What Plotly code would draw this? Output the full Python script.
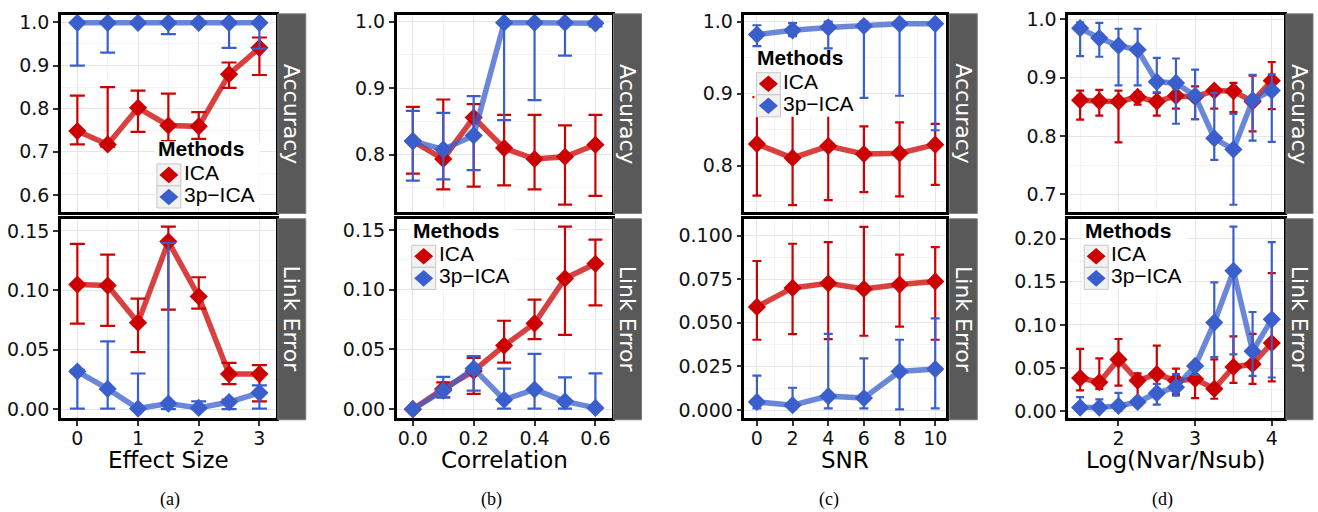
import plotly.graph_objects as go

W, H = 1318, 512

# ---- data ----
x_a = [0, 0.5, 1, 1.5, 2, 2.5, 3]
acc_a_ica = [0.748, 0.717, 0.802, 0.761, 0.759, 0.880, 0.941]
acc_a_ica_lo = [0.717, 0.712, 0.746, 0.725, 0.730, 0.848, 0.878]
acc_a_ica_hi = [0.830, 0.850, 0.842, 0.835, 0.792, 0.907, 0.965]
acc_a_3p = [0.999, 0.999, 0.999, 0.999, 0.999, 0.999, 0.999]
acc_a_3p_lo = [0.900, 0.930, 0.997, 0.973, 0.997, 0.941, 0.939]
acc_a_3p_hi = [1.0, 1.0, 1.0, 1.0, 1.0, 1.0, 1.0]
err_a_ica = [0.1048, 0.104, 0.0728, 0.141, 0.0948, 0.0295, 0.0295]
err_a_ica_lo = [0.072, 0.070, 0.048, 0.0838, 0.0846, 0.021, 0.0066]
err_a_ica_hi = [0.139, 0.130, 0.093, 0.1536, 0.111, 0.039, 0.037]
err_a_3p = [0.0317, 0.017, 0.0005, 0.0047, 0.001, 0.006, 0.0138]
err_a_3p_lo = [0.0005, 0.0005, 0.0, 0.0, 0.0, 0.0, 0.0005]
err_a_3p_hi = [0.033, 0.057, 0.030, 0.140, 0.0066, 0.008, 0.020]

x_b = [0, 0.1, 0.2, 0.3, 0.4, 0.5, 0.6]
acc_b_ica = [0.8206, 0.7936, 0.856, 0.810, 0.7936, 0.797, 0.815]
acc_b_ica_lo = [0.7715, 0.748, 0.752, 0.754, 0.748, 0.725, 0.738]
acc_b_ica_hi = [0.872, 0.883, 0.876, 0.860, 0.860, 0.844, 0.860]
acc_b_3p = [0.8206, 0.808, 0.829, 0.9985, 0.9985, 0.9985, 0.9975]
acc_b_3p_lo = [0.761, 0.763, 0.777, 0.852, 0.882, 0.949, 0.993]
acc_b_3p_hi = [0.866, 0.863, 0.888, 1.0, 1.0, 1.0, 1.0]
err_b_ica = [0.0, 0.017, 0.032, 0.0532, 0.0718, 0.1094, 0.1217]
err_b_ica_lo = [0.0, 0.010, 0.0129, 0.039, 0.0587, 0.0622, 0.0869]
err_b_ica_hi = [0.0, 0.0225, 0.043, 0.074, 0.0916, 0.1527, 0.1418]
err_b_3p = [0.0, 0.0156, 0.034, 0.008, 0.0165, 0.0066, 0.0011]
err_b_3p_lo = [0.0, 0.0096, 0.0156, 0.0005, 0.0005, 0.0005, 0.0]
err_b_3p_hi = [0.0, 0.027, 0.0444, 0.034, 0.0463, 0.0266, 0.030]

x_c = [0, 2, 4, 6, 8, 10]
acc_c_ica = [0.830, 0.8105, 0.827, 0.816, 0.817, 0.829]
acc_c_ica_lo = [0.758, 0.745, 0.752, 0.763, 0.757, 0.773]
acc_c_ica_hi = [0.895, 0.885, 0.895, 0.8545, 0.860, 0.858]
acc_c_3p = [0.982, 0.988, 0.992, 0.994, 0.997, 0.997]
acc_c_3p_lo = [0.966, 0.980, 0.963, 0.894, 0.897, 0.849]
acc_c_3p_hi = [0.995, 0.998, 1.0, 1.0, 1.0, 1.0]
err_c_ica = [0.0591, 0.070, 0.0726, 0.0694, 0.0719, 0.0737]
err_c_ica_lo = [0.0403, 0.0435, 0.0407, 0.0426, 0.0478, 0.0403]
err_c_ica_hi = [0.0854, 0.0953, 0.0962, 0.105, 0.0891, 0.0934]
err_c_3p = [0.0047, 0.0028, 0.008, 0.0069, 0.0221, 0.0235]
err_c_3p_lo = [0.001, 0.0005, 0.001, 0.001, 0.0004, 0.001]
err_c_3p_hi = [0.0197, 0.0128, 0.0437, 0.0296, 0.0403, 0.0525]

x_d = [1.5, 1.75, 2, 2.25, 2.5, 2.75, 3, 3.25, 3.5, 3.75, 4]
acc_d_ica = [0.8615, 0.860, 0.859, 0.867, 0.859, 0.869, 0.867, 0.878, 0.877, 0.859, 0.895]
acc_d_ica_lo = [0.828, 0.835, 0.789, 0.854, 0.835, 0.847, 0.829, 0.847, 0.841, 0.808, 0.846]
acc_d_ica_hi = [0.878, 0.879, 0.878, 0.8755, 0.874, 0.882, 0.885, 0.882, 0.891, 0.9035, 0.927]
acc_d_3p = [0.985, 0.968, 0.955, 0.948, 0.893, 0.891, 0.869, 0.796, 0.777, 0.8615, 0.878]
acc_d_3p_lo = [0.937, 0.936, 0.887, 0.887, 0.875, 0.821, 0.829, 0.759, 0.682, 0.792, 0.790]
acc_d_3p_hi = [0.995, 0.994, 0.984, 0.984, 0.934, 0.933, 0.914, 0.874, 0.838, 0.905, 0.906]
err_d_ica = [0.0384, 0.0335, 0.060, 0.0354, 0.043, 0.0354, 0.0373, 0.0259, 0.0513, 0.0544, 0.079]
err_d_ica_lo = [0.024, 0.0259, 0.0297, 0.0144, 0.018, 0.020, 0.0152, 0.0144, 0.0327, 0.0316, 0.0346]
err_d_ica_hi = [0.0722, 0.0612, 0.0837, 0.0437, 0.076, 0.0494, 0.0555, 0.060, 0.0867, 0.0897, 0.160]
err_d_3p = [0.0042, 0.0042, 0.0061, 0.0106, 0.0209, 0.0278, 0.0525, 0.1027, 0.1627, 0.0696, 0.1065]
err_d_3p_lo = [0.001, 0.001, 0.001, 0.0068, 0.0076, 0.018, 0.0422, 0.0627, 0.0658, 0.041, 0.039]
err_d_3p_hi = [0.0163, 0.0137, 0.0213, 0.0144, 0.0316, 0.043, 0.0563, 0.1494, 0.214, 0.115, 0.196]

x_titles = ["Effect Size", "Correlation", "SNR", "Log(Nvar/Nsub)"]
captions = ["(a)", "(b)", "(c)", "(d)"]
strip_labels = ["Accuracy", "Link Error"]
methods = ["ICA", "3p\u2212ICA"]

RED, BLUE = "#CC0000", "#3A5FCD"
RED_LINE, BLUE_LINE = "rgba(204,0,0,0.75)", "rgba(58,95,205,0.75)"
FONT = "DejaVu Sans"
LFONT = "Liberation Sans"

# panel geometry in pixels
xdom_px = [(61, 276), (397, 612), (745, 947), (1069, 1285)]
strip_px = [(278, 306), (614, 642), (950, 978), (1287, 1314)]
row_px = [(8, 209.5), (216, 419.5)]
strip_row_px = [(7, 210.5), (216, 421)]
caption_x = [170, 492, 830, 1163]

panels = [
    dict(x=x_a, cap=7.5, xr=[-0.27, 3.27], xt=(0, 1, 0.5), xfmt="",
         rows=[(acc_a_ica, acc_a_ica_lo, acc_a_ica_hi, acc_a_3p, acc_a_3p_lo, acc_a_3p_hi,
                [0.5595, 1.0175], (0.6, 0.1, 0.05), ".1f"),
               (err_a_ica, err_a_ica_lo, err_a_ica_hi, err_a_3p, err_a_3p_lo, err_a_3p_hi,
                [-0.0077, 0.1602], (0, 0.05, 0.025), ".2f")],
         legend_row=0, legend_at=(157, 148)),
    dict(x=x_b, cap=7, xr=[-0.053, 0.653], xt=(0, 0.2, 0.1), xfmt=".1f",
         rows=[(acc_b_ica, acc_b_ica_lo, acc_b_ica_hi, acc_b_3p, acc_b_3p_lo, acc_b_3p_hi,
                [0.7133, 1.0103], (0.8, 0.1, 0.05), ".1f"),
               (err_b_ica, err_b_ica_lo, err_b_ica_hi, err_b_3p, err_b_3p_lo, err_b_3p_hi,
                [-0.0076, 0.1593], (0, 0.05, 0.025), ".2f")],
         legend_row=1, legend_at=(412, 231)),
    dict(x=x_c, cap=4.5, xr=[-0.7, 10.62], xt=(0, 2, 1), xfmt="",
         rows=[(acc_c_ica, acc_c_ica_lo, acc_c_ica_hi, acc_c_3p, acc_c_3p_lo, acc_c_3p_hi,
                [0.7348, 1.0095], (0.8, 0.1, 0.05), ".1f"),
               (err_c_ica, err_c_ica_lo, err_c_ica_hi, err_c_3p, err_c_3p_lo, err_c_3p_hi,
                [-0.0047, 0.1096], (0, 0.025, 0.0125), ".3f")],
         legend_row=0, legend_at=(757, 55)),
    dict(x=x_d, cap=4, xr=[1.344, 4.16], xt=(2, 1, 0.5), xfmt="",
         rows=[(acc_d_ica, acc_d_ica_lo, acc_d_ica_hi, acc_d_3p, acc_d_3p_lo, acc_d_3p_hi,
                [0.6689, 1.0079], (0.7, 0.1, 0.05), ".1f"),
               (err_d_ica, err_d_ica_lo, err_d_ica_hi, err_d_3p, err_d_3p_lo, err_d_3p_hi,
                [-0.0083, 0.2231], (0, 0.05, 0.025), ".2f")],
         legend_row=1, legend_at=(1085, 231)),
]


def px(x, y):
    return x / W, 1 - y / H


def series(fig, k, x, y, lo, hi, color, line_color, cap, name):
    ax = "" if k == 1 else str(k)
    fig.add_trace(go.Scatter(
        x=x, y=y, mode="lines", line=dict(color=line_color, width=5.5),
        xaxis="x" + ax, yaxis="y" + ax, showlegend=False, hoverinfo="skip"))
    fig.add_trace(go.Scatter(
        x=x, y=y, mode="markers", name=name,
        marker=dict(symbol="diamond", size=14, color=color),
        error_y=dict(type="data", symmetric=False,
                     array=[h - v for h, v in zip(hi, y)],
                     arrayminus=[v - l for v, l in zip(y, lo)],
                     color=color, thickness=2.2, width=cap),
        xaxis="x" + ax, yaxis="y" + ax, showlegend=False))


def legend_box(ox, oy, shapes, annotations):
    # ggplot-style legend drawn in pixel space
    bx0, by0 = px(ox - 2, oy - 11)
    bx1, by1 = px(ox + 103, oy + 57)
    shapes.append(dict(type="rect", xref="paper", yref="paper", x0=bx0, x1=bx1,
                       y0=by1, y1=by0, fillcolor="white", line=dict(width=0)))
    annotations.append(dict(xref="paper", yref="paper", x=(ox - 1) / W, y=1 - (oy - 3.5) / H,
                            xanchor="left", yanchor="middle", showarrow=False,
                            text="<b>Methods</b>",
                            font=dict(family=LFONT, size=21, color="black")))
    for j, (name, col) in enumerate(zip(methods, [RED, BLUE])):
        top = oy + 12 + j * 22.5
        kx0, ky0 = px(ox, top)
        kx1, ky1 = px(ox + 24, top + 22.5)
        shapes.append(dict(type="rect", xref="paper", yref="paper", x0=kx0, x1=kx1,
                           y0=ky1, y1=ky0, fillcolor="#F2F2F2",
                           line=dict(color="#C8C8C8", width=1)))
        cx, cy = ox + 12, top + 11.25
        pts = [px(cx - 9.5, cy), px(cx, cy - 8.5), px(cx + 9.5, cy), px(cx, cy + 8.5)]
        path = "M " + " L ".join(f"{a:.5f},{b:.5f}" for a, b in pts) + " Z"
        shapes.append(dict(type="path", xref="paper", yref="paper", path=path,
                           fillcolor=col, line=dict(width=0)))
        annotations.append(dict(xref="paper", yref="paper", x=(ox + 25) / W,
                                y=1 - (cy - 2.5) / H, xanchor="left", yanchor="middle",
                                showarrow=False, text=name,
                                font=dict(family=LFONT, size=21, color="black")))


fig = go.Figure()
layout = {}
shapes, annotations = [], []

for i, p in enumerate(panels):
    x0, x1 = xdom_px[i]
    for r, row in enumerate(p["rows"]):
        k = i * 2 + r + 1
        ica, ica_lo, ica_hi, tp, tp_lo, tp_hi, yr, yt, yfmt = row
        series(fig, k, p["x"], ica, ica_lo, ica_hi, RED, RED_LINE, p["cap"], methods[0])
        series(fig, k, p["x"], tp, tp_lo, tp_hi, BLUE, BLUE_LINE, p["cap"], methods[1])

        y0, y1 = row_px[r]
        ax = "" if k == 1 else str(k)
        bottom = r == 1
        layout["xaxis" + ax] = dict(
            domain=[x0 / W, x1 / W], anchor="y" + ax, range=p["xr"],
            tick0=p["xt"][0], dtick=p["xt"][1], tickformat=p["xfmt"],
            showgrid=True, gridcolor="#E6E6E6", gridwidth=1.2, zeroline=False,
            minor=dict(tick0=p["xt"][0], dtick=p["xt"][2], showgrid=True,
                       gridcolor="#F4F4F4", gridwidth=1),
            showline=True, mirror=True, linecolor="black", linewidth=2.5,
            showticklabels=bottom, ticks="outside" if bottom else "",
            ticklen=5, tickwidth=1.5, tickcolor="#333333", ticklabelstandoff=-4,
            tickfont=dict(family=FONT, size=19, color="#111111"))
        layout["yaxis" + ax] = dict(
            domain=[1 - y1 / H, 1 - y0 / H], anchor="x" + ax, range=yr,
            tick0=yt[0], dtick=yt[1], tickformat=yfmt,
            showgrid=True, gridcolor="#E6E6E6", gridwidth=1.2, zeroline=False,
            minor=dict(tick0=yt[0], dtick=yt[2], showgrid=True,
                       gridcolor="#F4F4F4", gridwidth=1),
            showline=True, mirror=True, linecolor="black", linewidth=2.5,
            ticks="outside", ticklen=5, tickwidth=1.5, tickcolor="#333333",
            tickfont=dict(family=FONT, size=19, color="#111111"))

        # facet strip
        sx0, sx1 = strip_px[i]
        sy0, sy1 = strip_row_px[r]
        shapes.append(dict(type="rect", xref="paper", yref="paper",
                           x0=sx0 / W, x1=sx1 / W, y0=1 - sy1 / H, y1=1 - sy0 / H,
                           fillcolor="#595959", line=dict(color="#7A7A7A", width=1)))
        annotations.append(dict(xref="paper", yref="paper", x=(sx0 + sx1) / 2 / W,
                                y=1 - (sy0 + sy1) / 2 / H, text=strip_labels[r],
                                xanchor="center", yanchor="middle",
                                textangle=90, showarrow=False,
                                font=dict(family=FONT, size=22, color="white")))

        if p["legend_row"] == r:
            legend_box(*p["legend_at"], shapes, annotations)

    # x-axis title and caption
    annotations.append(dict(xref="paper", yref="paper", x=(x0 + x1) / 2 / W, y=1 - 462 / H,
                            text=x_titles[i], showarrow=False,
                            xanchor="center", yanchor="middle",
                            font=dict(family=FONT, size=23, color="black")))
    annotations.append(dict(xref="paper", yref="paper", x=caption_x[i] / W, y=1 - 502 / H,
                            text=captions[i], showarrow=False,
                            xanchor="center", yanchor="middle",
                            font=dict(family="Liberation Serif", size=18, color="black")))

fig.update_layout(
    **layout,
    width=W, height=H, autosize=False, showlegend=False,
    margin=dict(l=0, r=0, t=0, b=0),
    paper_bgcolor="white", plot_bgcolor="white",
    shapes=shapes, annotations=annotations,
)

fig.write_html("out.html", config={"displayModeBar": False},
               post_script="document.body.style.margin='0';")
